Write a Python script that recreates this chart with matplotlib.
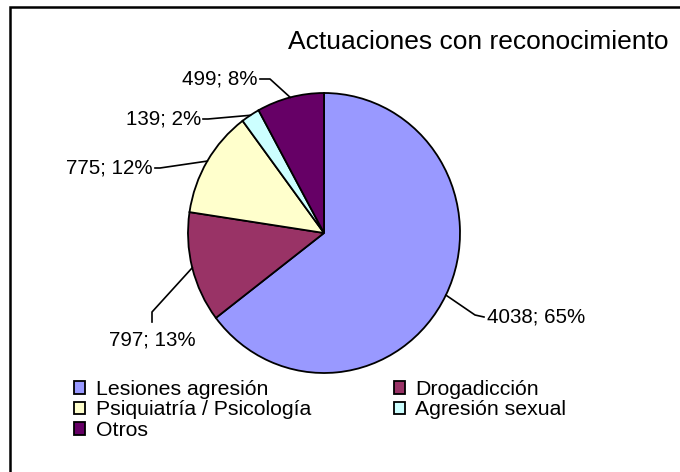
import matplotlib
matplotlib.use("Agg")
import matplotlib.pyplot as plt
from matplotlib.patches import Rectangle
import numpy as np

plt.rcParams['font.family'] = ['Liberation Sans', 'DejaVu Sans']

# datos
categorias = ['Lesiones agresión', 'Drogadicción', 'Psiquiatría / Psicología',
              'Agresión sexual', 'Otros']
valores = [4038, 797, 775, 139, 499]
porcentajes = [65, 13, 12, 2, 8]
colores = ['#9999FF', '#993366', '#FFFFCC', '#CCFFFF', '#660066']
titulo = 'Actuaciones con reconocimiento'

W, H = 680, 472
# centro y radios del pastel en pixeles
cx, cy, rx, ry = 324, 233, 136, 140

# posicion de etiquetas (pixeles): codo de la linea, fin de la linea, texto, alineacion
codos = [(475, 315), (152, 312), (160, 168), (208, 119), (270, 79)]
finales = [(484, 317), (152, 322), (155, 168), (203, 119), (260, 79)]
textos = [(487, 317), (152, 340), (153, 168), (201, 119), (258, 79)]
alin = ['left', 'center', 'right', 'right', 'right']

fig = plt.figure(figsize=(W / 100, H / 100), dpi=100)

ax = fig.add_axes([(cx - rx) / W, (H - cy - ry) / H, 2 * rx / W, 2 * ry / H])
wedges, _ = ax.pie(valores, colors=colores, startangle=90, counterclock=False,
                   wedgeprops=dict(edgecolor='black', linewidth=1.3))
ax.set_aspect('auto')
ax.set_xlim(-1, 1)
ax.set_ylim(-1, 1)
ax.axis('off')


def px(p):
    return ((p[0] - cx) / rx, (cy - p[1]) / ry)


for i, w in enumerate(wedges):
    ang = np.deg2rad((w.theta1 + w.theta2) / 2)
    borde = (np.cos(ang), np.sin(ang))
    c = px(codos[i])
    f = px(finales[i])
    ax.plot([borde[0], c[0], f[0]], [borde[1], c[1], f[1]], color='black',
            lw=1.2, clip_on=False)
    t = px(textos[i])
    ax.text(t[0], t[1], f'{valores[i]}; {porcentajes[i]}%', ha=alin[i],
            va='center', fontsize=14.8, clip_on=False)

fig.text(668 / W, 1 - 42 / H, titulo, ha='right', va='center', fontsize=19)

orden = [0, 2, 4, 1, 3]
fig.legend([wedges[i] for i in orden], [categorias[i] for i in orden],
           ncol=2, loc='upper left', bbox_to_anchor=(74 / W, 1 - 380 / H),
           frameon=False, fontsize=15.3, handlelength=0.52, handleheight=0.52,
           handletextpad=0.5, columnspacing=3.9, labelspacing=0.07,
           borderpad=0, borderaxespad=0)

# marco (solo se ven los bordes superior e izquierdo)
fig.add_artist(Rectangle((10 / W, -0.1), 1.2, 1.1 - 7 / H, transform=fig.transFigure,
                         fill=False, edgecolor='black', linewidth=1.8))

fig.savefig('out.png', dpi=100)
